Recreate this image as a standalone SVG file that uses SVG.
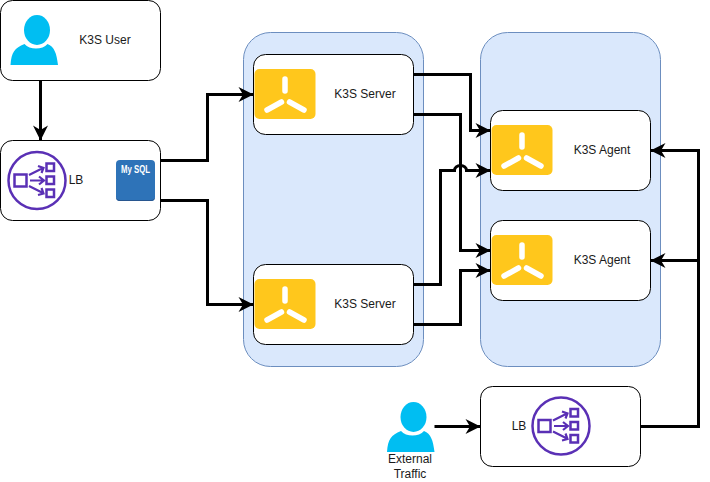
<svg xmlns="http://www.w3.org/2000/svg" width="710" height="482" viewBox="0 0 710 482">
<style>
.group{fill:#dae8fc;stroke:#6c8ebf;stroke-width:1}
.box{fill:#fff;stroke:#000;stroke-width:1}
.lbl{font-family:"Liberation Sans",Arial,sans-serif;font-size:12px;fill:#1a1a1a;text-anchor:middle}
.edge{fill:none;stroke:#000;stroke-width:3}
.tile{fill:#ffc71c}
.arm{stroke:#fff;stroke-width:5.500;stroke-linecap:round;fill:none}
.person{fill:#00bef2}
.lbc{fill:none;stroke:#5a30b5;stroke-width:2.500}
.lba{fill:none;stroke:#5a30b5;stroke-width:2.200}
</style>
<defs>
<marker id="arr" markerUnits="userSpaceOnUse" markerWidth="16" markerHeight="16" viewBox="0 0 16 16" refX="15.500" refY="8" orient="auto">
<path d="M0.500 0.500L15.500 8L0.500 15.500L5 8Z" fill="#000"/>
</marker>
<g id="k3s"><rect class="tile" width="61" height="50" rx="5"/><path class="arm" d="M30.500 10V22M27 33L12.500 41M35 33L49.500 41"/></g>
<g id="person"><ellipse class="person" cx="26.500" cy="15" rx="13" ry="15"/><path class="person" d="M0 50C1 37 4 33 14 29C19 35 32 35 37 29C44 32 46 38 47.500 50Z"/></g>
<g id="lbicon"><circle class="lbc" cx="30" cy="29.500" r="28.500"/><rect class="lbc" x="7.500" y="23.500" width="12" height="12"/><rect class="lbc" x="39.500" y="12.500" width="7.500" height="7.500"/><rect class="lbc" x="39.500" y="25.500" width="7.500" height="7.500"/><rect class="lbc" x="39.500" y="38.500" width="7.500" height="7.500"/><path class="lba" d="M22 24L36 17M31 15L36.500 17L34.500 22M23 29.500H36M32 25.500L37 29.500L32 33.500M22 35L36 42M34.500 37L36.500 42.500L31 44"/></g>
</defs>
<g id="container-servers"><rect class="group" x="243.500" y="32.500" width="180" height="334" rx="27"/></g>
<g id="container-agents"><rect class="group" x="480.500" y="32.500" width="180" height="334" rx="27"/></g>
<g id="k3s-user"><rect class="box" x="0.500" y="0.500" width="160" height="80" rx="12"/><use href="#person" x="10.500" y="15"/><text class="lbl" x="105" y="44">K3S User</text></g>
<g id="lb-top"><rect class="box" x="0.500" y="140.500" width="160" height="80" rx="12"/><use href="#lbicon" x="7" y="151"/><text class="lbl" x="76" y="184">LB</text>
<rect x="116" y="160" width="39" height="41" rx="4" fill="#2e73b8"/><path d="M116 197a4 4 0 0 0 4 4h31a4 4 0 0 0 4-4v-1a4 4 0 0 1-4 4h-31a4 4 0 0 1-4-4z" fill="#28568f"/><text x="135.500" y="173" text-anchor="middle" font-family="'Liberation Sans',Arial,sans-serif" font-size="10" font-weight="bold" fill="#fff" textLength="29" lengthAdjust="spacingAndGlyphs">My SQL</text></g>
<g id="server-1"><rect class="box" x="253.500" y="54.500" width="160" height="80" rx="12"/><use href="#k3s" x="254.500" y="69"/><text class="lbl" x="365" y="98">K3S Server</text></g>
<g id="server-2"><rect class="box" x="253.500" y="264.500" width="160" height="80" rx="12"/><use href="#k3s" x="254.500" y="279"/><text class="lbl" x="365" y="308">K3S Server</text></g>
<g id="agent-1"><rect class="box" x="490.500" y="110.500" width="160" height="80" rx="12"/><use href="#k3s" x="491.500" y="125"/><text class="lbl" x="602" y="154">K3S Agent</text></g>
<g id="agent-2"><rect class="box" x="490.500" y="220.500" width="160" height="80" rx="12"/><use href="#k3s" x="491.500" y="235"/><text class="lbl" x="602" y="264">K3S Agent</text></g>
<g id="lb-bottom"><rect class="box" x="480.500" y="386.500" width="160" height="80" rx="12"/><use href="#lbicon" x="531" y="396.500"/><text class="lbl" x="519" y="430">LB</text></g>
<g id="external-traffic"><use href="#person" x="387" y="402"/><text class="lbl" x="410" y="463">External</text><text class="lbl" x="410" y="478">Traffic</text></g>
<g id="connectors">
<path class="edge" marker-end="url(#arr)" d="M40.500 80.500V140.500"/>
<path class="edge" marker-end="url(#arr)" d="M160.500 160.500H207.500V94.500H253.500"/>
<path class="edge" marker-end="url(#arr)" d="M160.500 200.500H207.500V304.500H253.500"/>
<path class="edge" marker-end="url(#arr)" d="M413.500 74.500H470.500V130.500H490.500"/>
<path class="edge" marker-end="url(#arr)" d="M413.500 114.500H460.500V250.500H490.500"/>
<path class="edge" marker-end="url(#arr)" d="M413.500 284.500H440.500V170.500H454.500A6 5 0 0 1 466.500 170.500H490.500"/>
<path class="edge" marker-end="url(#arr)" d="M413.500 324.500H460.500V270.500H490.500"/>
<path class="edge" marker-end="url(#arr)" d="M434.500 426.500H480.500"/>
<path class="edge" marker-end="url(#arr)" d="M640.500 426.500H698.500V150.500H650.500"/>
<path class="edge" marker-end="url(#arr)" d="M698.500 260.500H650.500"/>
</g>
</svg>
